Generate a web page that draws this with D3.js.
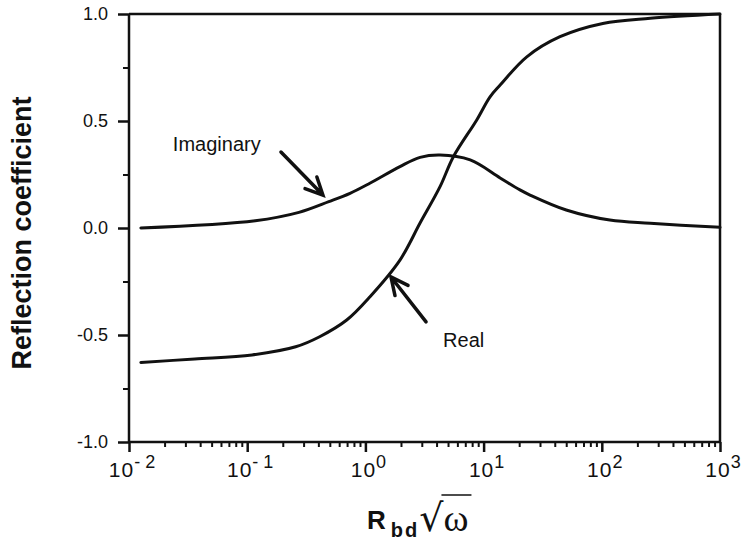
<!DOCTYPE html>
<meta charset="utf-8">
<head>
<style>
body { margin: 0; background: #fff; }
svg { font-family: "Liberation Sans", Arial, sans-serif; }
.curve { fill: none; stroke: #111; stroke-width: 3px; stroke-linejoin: round; stroke-linecap: round; }
.frame { stroke: #111; stroke-width: 2.5px; fill: none; }
.tick line { stroke: #111; stroke-width: 2.5px; }
.minor .tick line { stroke-width: 2px; }
.arrow { fill: none; stroke: #111; stroke-width: 3.5px; stroke-linecap: round; }
</style>
</head>
<body>
<script src="https://cdnjs.cloudflare.com/ajax/libs/d3/7.8.5/d3.min.js"></script>
<script>

// values
var imagX = [0.0126, 0.117, 0.274, 0.49, 0.741, 1.09, 1.96, 2.9, 4.28, 7.7, 13.8, 20.3, 24.7, 50, 117, 257, 1000];
var imagY = [0.0, 0.034, 0.073, 0.123, 0.162, 0.209, 0.287, 0.330, 0.341, 0.318, 0.234, 0.178, 0.154, 0.084, 0.037, 0.022, 0.003];

var realX = [0.0126, 0.036, 0.11, 0.257, 0.41, 0.695, 1.094, 1.96, 2.9, 4.28, 5.55, 8.75, 11.3, 13.8, 23.2, 44.3, 102, 257, 1000];
var realY = [-0.628, -0.612, -0.593, -0.555, -0.508, -0.43, -0.321, -0.15, 0.023, 0.193, 0.333, 0.505, 0.612, 0.668, 0.80, 0.894, 0.956, 0.98, 1.0];

var yMajor = [1.0, 0.5, 0.0, -0.5, -1.0];
var yMinor = [0.75, 0.25, -0.25, -0.75];
var xExp = [-2, -1, 0, 1, 2, 3];

// annotations in data units: label position, arrow tail, arrow tip
var imagNote = {text: "Imaginary", lx: 0.0235, ly: 0.36, tail: [0.193, 0.355], tip: [0.437, 0.154]};
var realNote = {text: "Real", lx: 4.54, ly: -0.556, tail: [3.26, -0.439], tip: [1.646, -0.229]};

var margin = {top: 14, right: 24, bottom: 99, left: 129},
    width = 744 - margin.left - margin.right,
    height = 541 - margin.top - margin.bottom;

var x = d3.scaleLog().domain([1e-2, 1e3]).range([0, width]);
var y = d3.scaleLinear().domain([-1, 1]).range([height, 0]);

var svg = d3.select("body").append("svg")
    .attr("width", 744)
    .attr("height", 541)
  .append("g")
    .attr("transform", "translate(" + margin.left + "," + margin.top + ")");

// y axis, major + minor ticks
svg.append("g")
    .call(d3.axisLeft(y).tickValues(yMajor).tickSize(11).tickSizeOuter(0).tickPadding(10)
      .tickFormat(function(d) { return d.toFixed(1).replace("\u2212", "-"); }))
    .call(function(g) { g.select(".domain").remove(); })
    .selectAll("text")
      .style("font-size", "18px")
      .attr("fill", "#111");

svg.append("g").attr("class", "minor")
    .call(d3.axisLeft(y).tickValues(yMinor).tickSize(6).tickFormat(""))
    .call(function(g) { g.select(".domain").remove(); });

// x axis, decades + minor ticks
var xMinor = [];
xExp.slice(0, -1).forEach(function(e) {
  for (var k = 2; k < 10; k++) xMinor.push(k * Math.pow(10, e));
});

var xa = svg.append("g")
    .attr("transform", "translate(0," + height + ")")
    .call(d3.axisBottom(x).tickValues(xExp.map(function(e) { return Math.pow(10, e); }))
      .tickSize(10).tickSizeOuter(0).tickFormat(""));
xa.select(".domain").remove();

svg.append("g").attr("class", "minor")
    .attr("transform", "translate(0," + height + ")")
    .call(d3.axisBottom(x).tickValues(xMinor).tickSize(5).tickFormat(""))
    .call(function(g) { g.select(".domain").remove(); });

// decade labels 10^n
var lab = svg.append("g").selectAll("text")
    .data(xExp)
  .enter().append("text")
    .attr("x", function(d) { return x(Math.pow(10, d)) + 3; })
    .attr("y", height + 35)
    .attr("text-anchor", "middle")
    .attr("fill", "#111");
lab.append("tspan").style("font-size", "21px").style("letter-spacing", "1px").text("10");
lab.append("tspan").style("font-size", "18px").attr("dy", -9)
    .text(function(d) { return d < 0 ? "- " + (-d) : String(d); });

// frame
svg.append("line").attr("class", "frame").attr("x1", 0).attr("x2", 0).attr("y1", 0).attr("y2", height);
svg.append("line").attr("class", "frame").attr("x1", 0).attr("x2", width).attr("y1", height).attr("y2", height);
svg.append("line").attr("class", "frame").attr("x1", 0).attr("x2", width).attr("y1", 0).attr("y2", 0);
svg.append("line").attr("class", "frame").attr("x1", width).attr("x2", width).attr("y1", 0).attr("y2", height);

// curves
var line = d3.line()
    .x(function(d) { return x(d[0]); })
    .y(function(d) { return y(d[1]); })
    .curve(d3.curveCatmullRom.alpha(0.5));

svg.append("path").attr("class", "curve")
    .attr("d", line(d3.zip(imagX, imagY)));
svg.append("path").attr("class", "curve")
    .attr("d", line(d3.zip(realX, realY)));

// labels with arrows
[imagNote, realNote].forEach(function(n) {
  svg.append("text")
    .attr("x", x(n.lx)).attr("y", y(n.ly))
    .style("font-size", "20px")
    .attr("fill", "#111")
    .text(n.text);

  var x0 = x(n.tail[0]), y0 = y(n.tail[1]),
      x1 = x(n.tip[0]), y1 = y(n.tip[1]);
  var a = Math.atan2(y1 - y0, x1 - x0), L = 19, w = 0.45;
  var p = d3.path();
  p.moveTo(x0, y0); p.lineTo(x1, y1);
  p.moveTo(x1 - L * Math.cos(a - w), y1 - L * Math.sin(a - w));
  p.lineTo(x1, y1);
  p.lineTo(x1 - L * Math.cos(a + w), y1 - L * Math.sin(a + w));
  svg.append("path").attr("class", "arrow").attr("d", p.toString());
});

// axis titles
svg.append("text")
    .attr("transform", "rotate(-90)")
    .attr("x", -(233 - margin.top))
    .attr("y", -margin.left + 31)
    .attr("text-anchor", "middle")
    .style("font-size", "27px")
    .style("font-weight", "bold")
    .attr("fill", "#111")
    .text("Reflection coefficient");

var xt = svg.append("text")
    .attr("x", 367 - margin.left)
    .attr("y", 529 - margin.top)
    .attr("fill", "#111");
xt.append("tspan").style("font-size", "26px").style("font-weight", "bold").text("R");
xt.append("tspan").style("font-size", "20px").style("font-weight", "bold").attr("dy", 8).attr("dx", 5)
    .style("letter-spacing", "2px").text("bd");
var rad = xt.append("tspan").style("font-size", "38px").attr("dy", -6).attr("dx", 0)
    .style("font-family", "DejaVu Sans, sans-serif").text("\u221A");
var om = xt.append("tspan").style("font-size", "38px").attr("dx", 0)
    .style("font-family", "Liberation Serif, serif").text("\u03C9");

// overline of the root sign
var omBox = om.node().getExtentOfChar(0);
var radBox = rad.node().getExtentOfChar(0);
svg.append("line")
  .attr("x1", radBox.x + radBox.width - 2).attr("x2", omBox.x + omBox.width + 3)
  .attr("y1", 495 - margin.top).attr("y2", 495 - margin.top)
  .attr("stroke", "#111").attr("stroke-width", 1.5);

</script>
</body>
